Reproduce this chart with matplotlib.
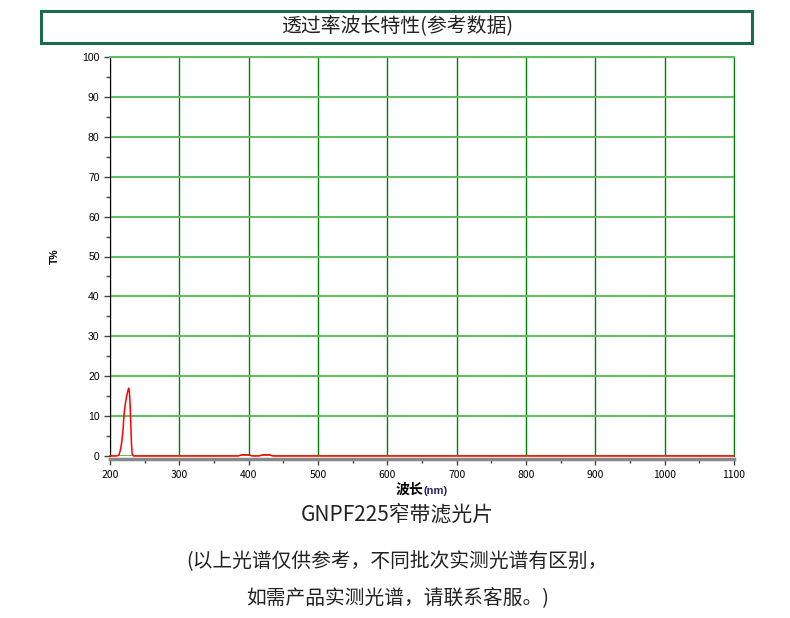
import matplotlib
matplotlib.use("Agg")
import matplotlib.pyplot as plt
from matplotlib.patches import Rectangle
from matplotlib.ticker import MultipleLocator

plt.rcParams['font.family'] = ['Noto Sans CJK SC', 'DejaVu Sans']

# data
bolgelengde = [200, 210, 213, 215, 217, 219, 220, 222, 224, 226, 227, 228, 229, 230, 231, 232, 234,
               240, 385, 390, 400, 405, 415, 420, 430, 435, 1100]
transmisjon = [0, 0, 0.3, 1.5, 3.5, 7, 10, 13, 15, 16.5, 17, 16, 13, 8, 3, 0.5, 0,
               0, 0, 0.3, 0.3, 0, 0, 0.3, 0.3, 0, 0]

xticks = [200, 300, 400, 500, 600, 700, 800, 900, 1000, 1100]
yticks = [0, 10, 20, 30, 40, 50, 60, 70, 80, 90, 100]

tittel = "透过率波长特性(参考数据)"
produkt = "GNPF225窄带滤光片"
merknad1 = "(以上光谱仅供参考，不同批次实测光谱有区别，"
merknad2 = "如需产品实测光谱，请联系客服。)"

fig = plt.figure(figsize=(7.9, 6.18), dpi=100)
fig.patch.set_facecolor("white")

# tittelboks
fig.patches.append(Rectangle((41/790, 1-43/618), 711/790, 32/618, transform=fig.transFigure,
                             fill=False, edgecolor="#1d6b4f", linewidth=2.2))
fig.text(0.503, 1-27/618, tittel, ha="center", va="center", fontsize=14.3, color="#222222")

ax = fig.add_axes([110/790, 1-456/618, 624/790, 399/618])
ax.plot(bolgelengde, transmisjon, color="red", linewidth=1.1, zorder=5, clip_on=False)

ax.set_xlim(200, 1100)
ax.set_ylim(0, 100)
ax.set_xticks(xticks)
ax.set_yticks(yticks)
ax.xaxis.set_minor_locator(MultipleLocator(50))
ax.yaxis.set_minor_locator(MultipleLocator(5))
ax.tick_params(axis="both", which="major", labelsize=7.5, length=4, width=1, direction="out", color="#444444")
ax.tick_params(axis="both", which="minor", length=3, width=1, direction="out", color="#444444")
ax.tick_params(axis="x", pad=4)
for lbl in ax.get_xticklabels() + ax.get_yticklabels():
    lbl.set_family(["Liberation Sans", "DejaVu Sans"])

ax.xaxis.grid(True, which="major", color="#008000", linewidth=1)
ax.yaxis.grid(True, which="major", color="#66bb66", linewidth=1.5)
ax.set_axisbelow(True)

ax.spines["left"].set_color("black")
ax.spines["bottom"].set_color("#888888")
ax.spines["bottom"].set_linewidth(2.5)
ax.spines["bottom"].set_position(("outward", 2))
ax.spines["top"].set_color("#66bb66")
ax.spines["top"].set_linewidth(1.5)
ax.spines["right"].set_color("#008000")

ax.set_ylabel("T%", fontsize=7.5, fontweight="bold", labelpad=16, family=["Liberation Sans", "DejaVu Sans"])
fig.text(423/790, 1-490/618, "波长", ha="right", va="center", fontsize=10, fontweight="bold")
fig.text(423/790, 1-491/618, "(nm)", ha="left", va="center", fontsize=8, fontweight="bold",
         color="#222266", family=["Liberation Sans", "DejaVu Sans"])

fig.text(0.503, 1-515/618, produkt, ha="center", va="center", fontsize=15, color="#222222")
fig.text(0.503, 1-562/618, merknad1, ha="center", va="center", fontsize=14.2, color="#222222")
fig.text(0.503, 1-599/618, merknad2, ha="center", va="center", fontsize=14.2, color="#222222")

fig.savefig("out.png", dpi=100)
